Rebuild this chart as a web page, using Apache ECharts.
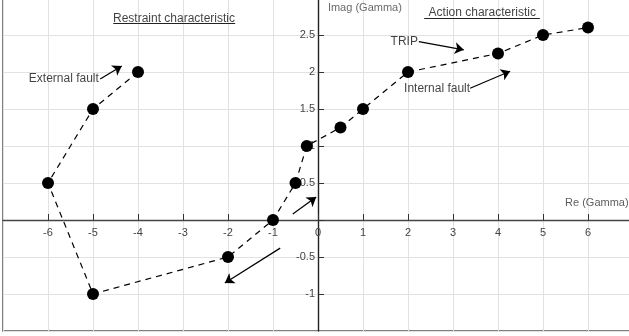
<!DOCTYPE html>
<html>
<head>
<meta charset="utf-8">
<script src="https://cdn.jsdelivr.net/npm/echarts@6/dist/echarts.min.js"></script>
<style>
  html, body { margin: 0; padding: 0; background: #fff; }
  #chart { width: 629px; height: 336px; }
</style>
</head>
<body>
<div id="chart"></div>
<script>
// locus of gamma, in order
const gammaRe = [-4, -5, -6, -5, -2, -1, -0.5, -0.25, 0.5, 1, 2, 4, 5, 6];
const gammaIm = [2, 1.5, 0.5, -1, -0.5, 0, 0.5, 1, 1.25, 1.5, 2, 2.25, 2.5, 2.6];

// annotation arrows [x1, y1, x2, y2]
const arrows = [
  [-4.84, 1.905, -4.36, 2.08],
  [2.24, 2.41, 3.24, 2.30],
  [3.38, 1.78, 4.27, 2.01],
  [-0.56, 0.08, -0.04, 0.31],
  [-0.84, -0.38, -2.07, -0.85]
];

// text notes [x, y, text, align, size, color]
const notes = [
  [-4.87, 1.905, 'External fault', 'right', 12, '#111'],
  [2.22, 2.41, 'TRIP', 'right', 12, '#111'],
  [3.38, 1.78, 'Internal fault', 'right', 12, '#111'],
  [-3.2, 2.72, 'Restraint characteristic', 'center', 12, '#111'],
  [3.65, 2.80, 'Action characteristic', 'center', 12, '#111'],
  [0.22, 2.86, 'Imag (Gamma)', 'left', 11, '#444'],
  [5.49, 0.23, 'Re (Gamma)', 'left', 11, '#333']
];

// underlines under the two titles [x1, x2, y]
const underlines = [
  [-4.55, -1.84, 2.655],
  [2.36, 4.93, 2.726]
];

const xMin = -7, xMax = 7, yMin = -1.5, yMax = 3;

const chart = echarts.init(document.getElementById('chart'));

const axisCommon = {
  type: 'value',
  axisLine: { onZero: false, lineStyle: { color: '#444', width: 1.4 } },
  axisTick: { show: true, inside: true, length: 6, lineStyle: { color: '#333' } },
  splitLine: { show: true, lineStyle: { color: '#e2e2e2', width: 1 } },
  axisLabel: {
    color: '#444', fontSize: 11, fontFamily: 'Liberation Sans',
    showMinLabel: false, showMaxLabel: false
  }
};

chart.setOption({
  animation: false,
  textStyle: { fontFamily: 'Liberation Sans' },
  grid: {
    left: 3, right: -4, top: -2, bottom: 5,
    outerBoundsMode: 'none', containLabel: false,
    show: true, borderColor: '#555', borderWidth: 1.5
  },
  xAxis: Object.assign({}, axisCommon, {
    min: xMin, max: xMax, interval: 1, position: 'bottom',
    axisLabel: Object.assign({}, axisCommon.axisLabel, { margin: 7 })
  }),
  yAxis: Object.assign({}, axisCommon, {
    min: yMin, max: yMax, interval: 0.5, position: 'left',
    axisLine: { onZero: false, lineStyle: { color: '#222', width: 1.4 } },
    axisLabel: Object.assign({}, axisCommon.axisLabel, {
      margin: 3,
      formatter: v => (v === 0 ? '' : String(v))
    })
  }),
  series: [
    {
      type: 'line',
      data: gammaRe.map((x, i) => [x, gammaIm[i]]),
      symbol: 'circle',
      symbolSize: 12,
      itemStyle: { color: '#000' },
      lineStyle: { color: '#000', width: 1.2, type: [6, 5] },
      z: 5
    },
    {
      type: 'lines',
      coordinateSystem: 'cartesian2d',
      symbol: ['none', 'arrow'],
      symbolSize: 9,
      lineStyle: { color: '#000', width: 1.2, opacity: 1 },
      data: arrows.map(a => ({ coords: [[a[0], a[1]], [a[2], a[3]]] })),
      z: 6
    },
    {
      type: 'lines',
      coordinateSystem: 'cartesian2d',
      symbol: 'none',
      lineStyle: { color: '#222', width: 1, opacity: 1 },
      data: underlines.map(u => ({ coords: [[u[0], u[2]], [u[1], u[2]]] })),
      z: 6
    },
    {
      type: 'scatter',
      symbolSize: 0,
      silent: true,
      data: notes.map(n => ({
        value: [n[0], n[1]],
        label: {
          show: true, position: [0, 0], formatter: n[2],
          align: n[3], verticalAlign: 'middle',
          fontSize: n[4], color: n[5], fontFamily: 'Liberation Sans'
        }
      })),
      z: 7
    }
  ]
});

// move both axes onto the origin, labels and ticks included
const origin = chart.convertToPixel({ gridIndex: 0 }, [0, 0]);
const corner = chart.convertToPixel({ gridIndex: 0 }, [xMin, yMin]);
chart.setOption({
  xAxis: { offset: -(corner[1] - origin[1]) },
  yAxis: { offset: -(origin[0] - corner[0]) }
});
</script>
</body>
</html>
